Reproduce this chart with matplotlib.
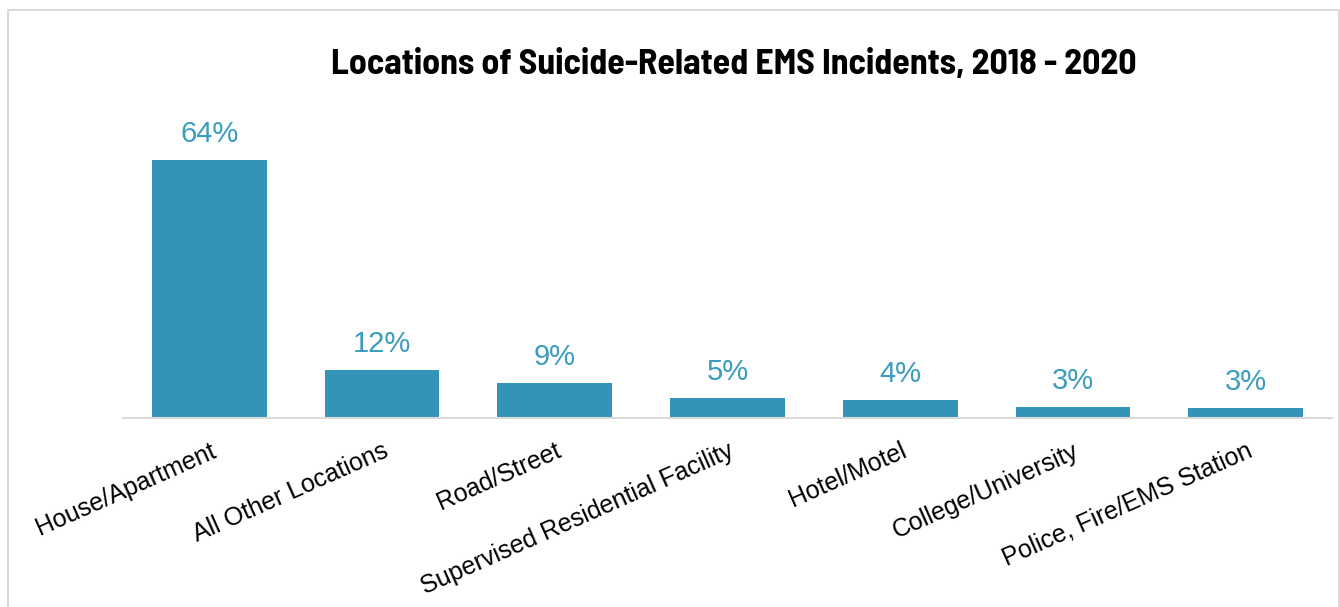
import matplotlib
matplotlib.use("Agg")
import matplotlib.pyplot as plt
from matplotlib.patches import Rectangle

categories = ["House/Apartment", "All Other Locations", "Road/Street",
              "Supervised Residential Facility", "Hotel/Motel",
              "College/University", "Police, Fire/EMS Station"]
values = [64.2, 11.9, 8.7, 5.0, 4.4, 2.7, 2.5]
labels = ["64%", "12%", "9%", "5%", "4%", "3%", "3%"]
title = "Locations of Suicide-Related EMS Incidents, 2018 - 2020"

title_family = ["Barlow Semi Condensed", "Barlow Condensed", "Liberation Sans", "DejaVu Sans"]
body_family = ["Liberation Sans", "DejaVu Sans"]

W, H = 1340, 607
fig = plt.figure(figsize=(W / 100, H / 100), dpi=100)
fig.patch.set_facecolor("white")

# outer chart border
fig.patches.append(Rectangle((8 / W, -0.05), (1339 - 8) / W, 1 - 10 / H + 0.05,
                             transform=fig.transFigure, fill=False,
                             edgecolor="#d9d9d9", linewidth=1.5))

ax_left, ax_right = 123 / W, 1332 / W
ax_bottom = 1 - 418 / H
ax_top = 1 - 96.5 / H
ax = fig.add_axes([ax_left, ax_bottom, ax_right - ax_left, ax_top - ax_bottom])

bar_color = "#3395b6"
label_color = "#3a9cbe"
x = range(len(categories))
bars = ax.bar(x, values, width=0.665, color=bar_color)
ax.set_xlim(-0.5, len(categories) - 0.5)
ax.set_ylim(0, 80)

for b, lab in zip(bars, labels):
    ax.annotate(lab, (b.get_x() + b.get_width() / 2, b.get_height()),
                xytext=(0, 12), textcoords="offset pixels",
                ha="center", va="bottom", fontsize=21, color=label_color,
                family=body_family)

for s in ["top", "right", "left"]:
    ax.spines[s].set_visible(False)
ax.spines["bottom"].set_color("#d9d9d9")
ax.spines["bottom"].set_linewidth(1.5)
ax.set_yticks([])
ax.set_xticks(list(x))
ax.set_xticklabels(categories, rotation=24, ha="right", va="top",
                   rotation_mode="anchor", fontsize=18, family=body_family,
                   color="black")
ax.tick_params(axis="x", length=0, pad=15)

fig.text(734 / W, 1 - 65 / H, title, ha="center", va="center",
         fontsize=25.8, fontweight="bold", family=title_family, color="black")

fig.savefig("out.png", dpi=100, facecolor="white")
